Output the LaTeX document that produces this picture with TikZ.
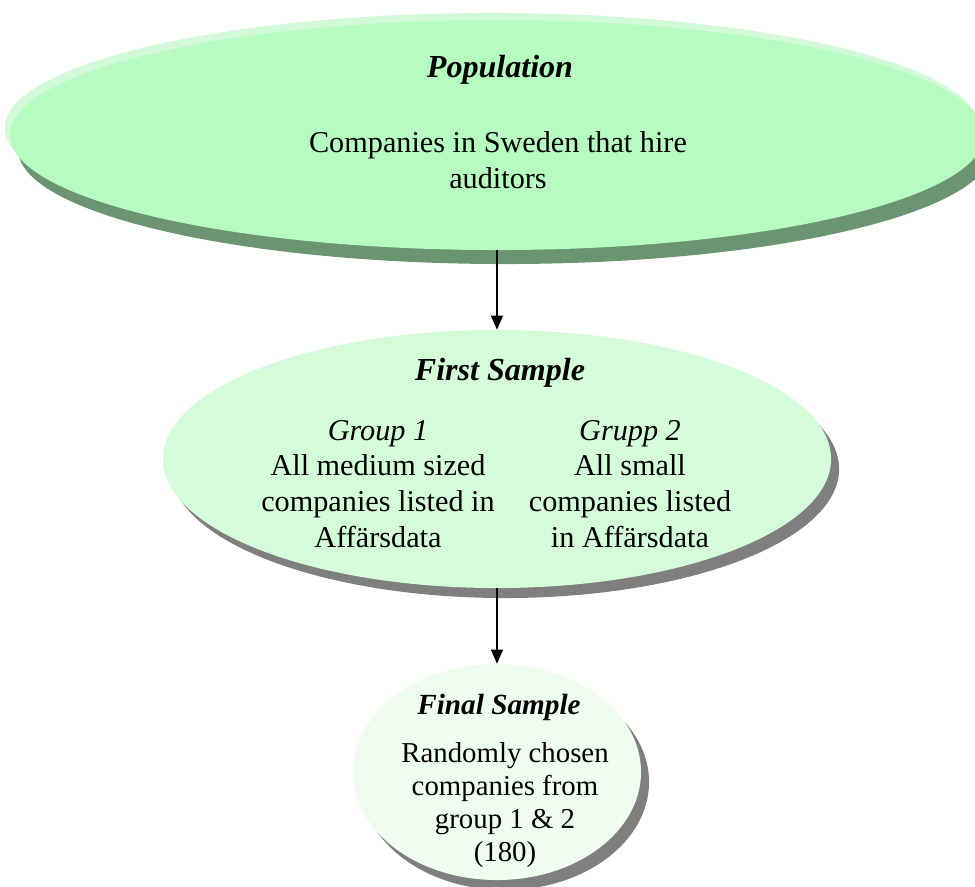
\documentclass[tikz,border=0pt]{standalone}
\usepackage{fontspec}
\setmainfont{Liberation Serif}
\usetikzlibrary{shapes.geometric,shadows,arrows.meta}

\definecolor{popgreen}{HTML}{B6FBC0}
\definecolor{poprim}{HTML}{D2FAD8}
\definecolor{popshade}{HTML}{6B9570}
\definecolor{firstgreen}{HTML}{D5FCD9}
\definecolor{finalgreen}{HTML}{EFFDF0}
\definecolor{shadegray}{HTML}{7F7F7F}

\tikzset{
  blob/.style={ellipse,inner sep=0pt,draw=none},
  grayshade/.style={drop shadow={shadow xshift=0.2cm,shadow yshift=-0.25cm,fill=shadegray,opacity=1}},
  headtext/.style={font=\fontsize{22.8}{27}\selectfont\bfseries\itshape},
  bodytext/.style={align=center,font=\fontsize{21.5}{25.5}\selectfont},
  link/.style={thick,-{Triangle[length=0.35cm,width=0.3cm]}},
}

\begin{document}
\begin{tikzpicture}[x=0.025cm,y=-0.025cm]
\useasboundingbox (0,0) rectangle (975,887);
% the three ellipses
\node[blob, fill=popgreen, minimum width=24.35cm, minimum height=5.75cm,
  general shadow={shadow xshift=-0.125cm,shadow yshift=0.175cm,fill=poprim},
  drop shadow={shadow xshift=0.2cm,shadow yshift=-0.35cm,fill=popshade,opacity=1}] (pop) at (497,135) {};
\node[blob, grayshade, fill=firstgreen, minimum width=16.7cm, minimum height=6.45cm] (first) at (497,459) {};
\node[blob, grayshade, fill=finalgreen, minimum width=7.2cm, minimum height=5.4cm] (final) at (497,772) {};
% texts
\node[headtext] (popTitle) at (500,70) {Population};
\node[bodytext] (popText) at (498,160) {Companies in Sweden that hire\\auditors};
\node[headtext] (firstTitle) at (500,373) {First Sample};
\node[bodytext] (groupOne) at (378,484) {{\itshape Group 1}\\All medium sized\\companies listed in\\Affärsdata};
\node[bodytext] (groupTwo) at (630,484) {{\itshape Grupp 2}\\All small\\companies listed\\in Affärsdata};
\node[headtext, font=\fontsize{20.8}{24}\selectfont\bfseries\itshape] (finalTitle) at (499,707) {Final Sample};
\node[bodytext, font=\fontsize{20.5}{23.4}\selectfont] (finalText) at (505,805) {Randomly chosen\\companies from\\group 1 \& 2\\(180)};
% arrows
\draw[link] (pop.south) -- (first.north);
\draw[link] (first.south) -- (final.north);
\end{tikzpicture}
\end{document}
